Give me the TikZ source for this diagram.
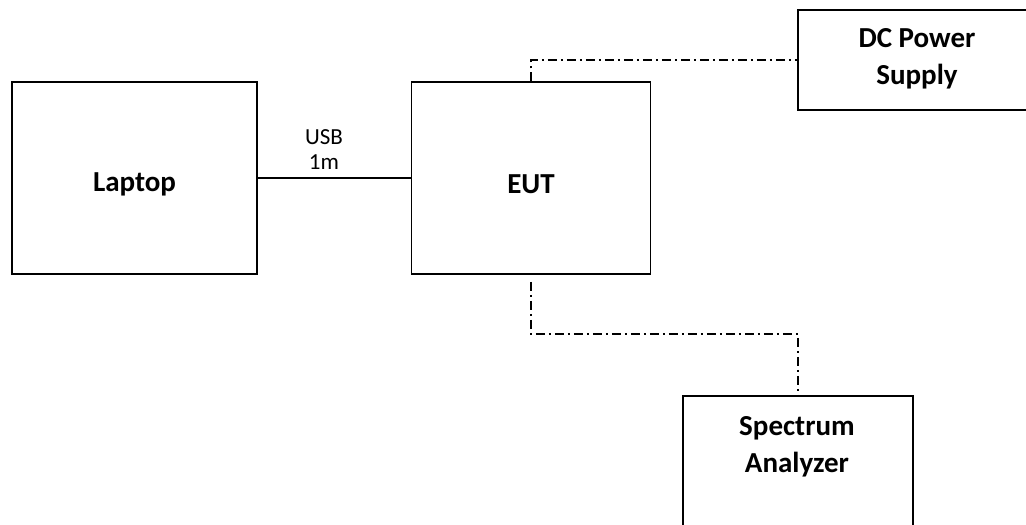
\documentclass[tikz,border=0pt]{standalone}
\usepackage{fontspec}
\setmainfont{Carlito}
\begin{document}
\begin{tikzpicture}[x=1pt,y=-1pt,
  box/.style={draw, line width=1.5pt, rectangle, inner sep=0pt},
  lbl/.style={font=\fontsize{29}{37}\selectfont\bfseries, align=center, inner sep=0pt},
  cable/.style={line width=1.3pt},
  dashdot/.style={line width=1.5pt, dash pattern=on 9pt off 4pt on 2pt off 4pt}]
\useasboundingbox (0,0) rectangle (1026,525);
\clip (0,0) rectangle (1026,525);
\node[box, minimum width=245pt, minimum height=192pt] (laptop) at (134.5,178) {};
\node[lbl] at (laptop.center) [yshift=-6pt] {Laptop};
\node[box, minimum width=239pt, minimum height=192pt] (eut) at (531,178) {};
\node[lbl] at (eut.center) [yshift=-6pt] {EUT};
\node[box, minimum width=300pt, minimum height=100pt] (dc) at (948,60) {};
\node[lbl] at (917,59) {DC Power\\Supply};
\node[box, minimum width=230pt, minimum height=230pt, anchor=north] (sa) at (798,395) {};
\node[lbl] at (797,447) {Spectrum\\Analyzer};
\draw[cable] (laptop.east) -- (eut.west);
\node[font=\fontsize{23}{25}\selectfont, align=center, inner sep=0pt] (usb) at (324,150) {USB\\1m};
\draw[dashdot] (eut.north) |- (dc.west);
\coordinate (bend) at (664,334);
\draw[dashdot] ([yshift=-7pt]eut.south) |- (bend) -| (sa.north);
\end{tikzpicture}
\end{document}
